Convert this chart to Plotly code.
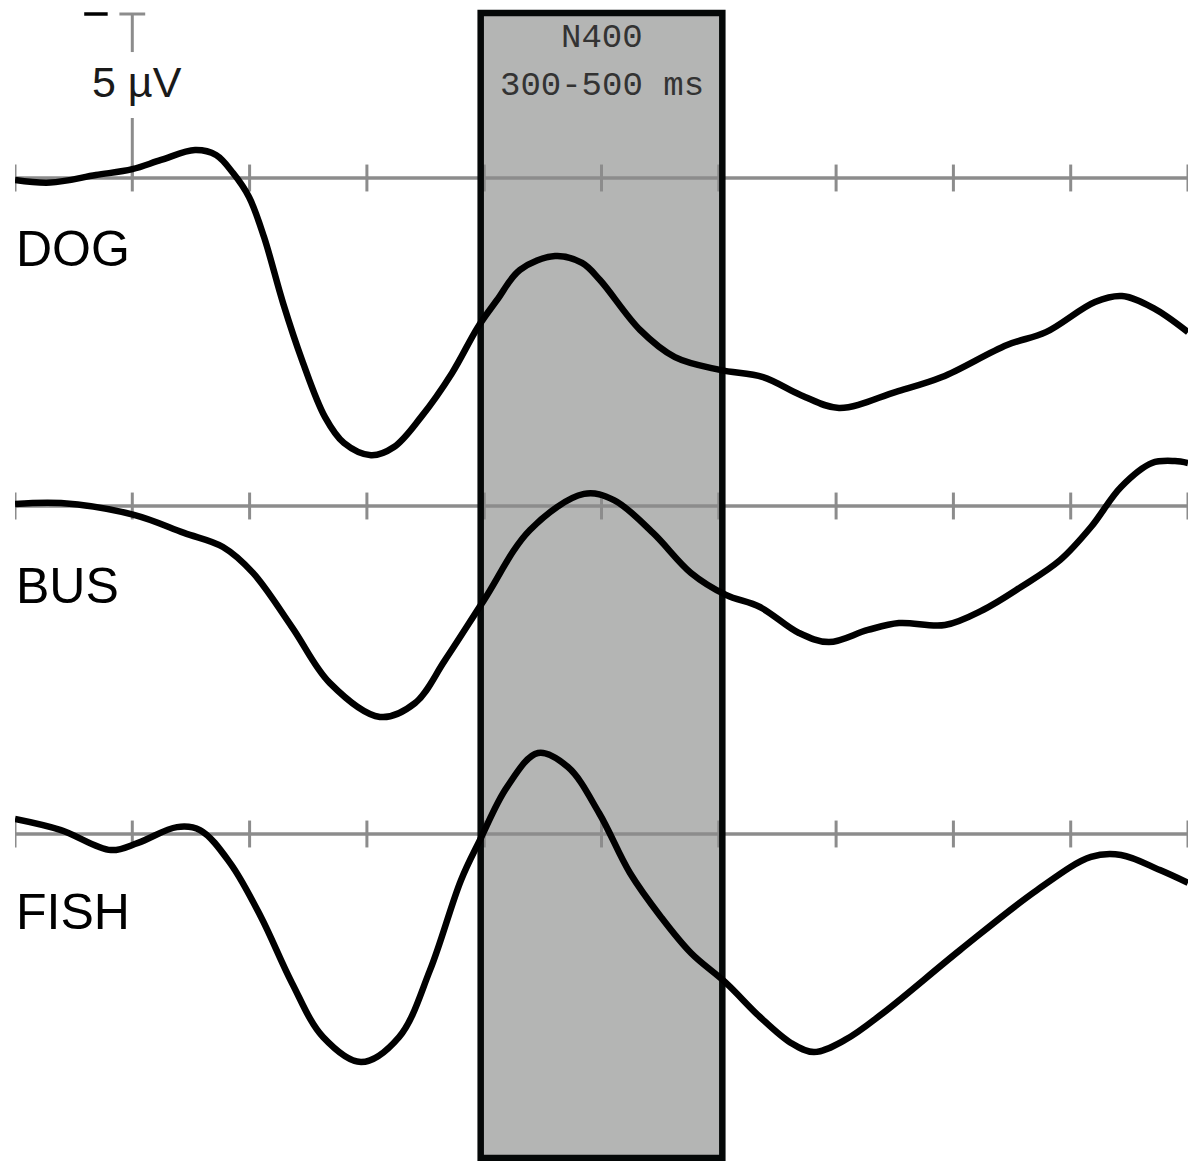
import plotly.graph_objects as go

# ---------------- data ----------------
conditions = ["DOG", "BUS", "FISH"]
channel_offset_uv = [0, 10, 20]          # vertical stacking offset (µV)
tick_ms = [-100, 0, 100, 200, 300, 400, 500, 600, 700, 800, 900]
n400_window_ms = [300, 500]
scale_bar_uv = 5

dog_t = [-100, -70, -31, 0, 24.5, 53.5, 71.4, 85.9, 99.5, 112.3, 128.5, 144.7, 164.3, 180.5,
         203.5, 223.1, 246.1, 272.5, 294.7, 310.9, 330.5, 360.4, 383.4, 398.7, 432.8, 462.6,
         501, 537.7, 570.1, 602.5, 651.1, 690.3, 745.7, 778.9, 820.7, 843.7, 870.2, 900]
dog_uv = [0.06, 0.14, -0.09, -0.27, -0.55, -0.85, -0.70, -0.15, 0.58, 1.80, 3.81, 5.55, 7.29, 8.08,
          8.45, 8.20, 7.29, 5.95, 4.54, 3.72, 2.80, 2.38, 2.59, 3.11, 4.63, 5.46,
          5.85, 6.07, 6.62, 7.01, 6.52, 6.07, 5.09, 4.70, 3.78, 3.60, 3.96, 4.70]

bus_t = [-100, -60.8, 1.4, 44.1, 77.3, 102.9, 136.1, 168.5, 211.1, 241, 266.6, 299.8, 339,
         385.1, 410.6, 443.9, 476.3, 506.1, 535.1, 568.3, 593.9, 627.1, 653.6, 692.8, 725.2,
         757.6, 790.9, 817.3, 842.9, 869.3, 888.9, 900]
bus_uv = [-0.06, -0.09, 0.27, 0.82, 1.25, 2.04, 3.69, 5.40, 6.43, 6.01, 4.70, 2.87, 0.73,
          -0.37, -0.18, 0.82, 2.04, 2.71, 3.08, 3.87, 4.15, 3.78, 3.57, 3.63, 3.17,
          2.47, 1.65, 0.64, -0.58, -1.31, -1.37, -1.31]

fish_t = [-100, -60.8, -18.2, 4.9, 38.1, 57.7, 83.3, 109.7, 136.1, 162.6, 195, 227.4, 253.8,
          280.3, 296.4, 319.4, 345.9, 371.4, 397.9, 424.3, 450.7, 476.3, 506.1, 535.1, 561.5,
          581.1, 607.6, 640, 705.6, 771.3, 817.3, 842.9, 876.1, 900]
fish_uv = [-0.46, -0.12, 0.49, 0.27, -0.21, -0.12, 0.88, 2.53, 4.54, 6.19, 6.95, 6.19, 4.15,
           1.40, 0.18, -1.43, -2.47, -2.04, -0.64, 1.19, 2.53, 3.63, 4.54, 5.58, 6.37,
           6.65, 6.28, 5.46, 3.54, 1.71, 0.70, 0.64, 1.10, 1.49]

series_t = [dog_t, bus_t, fish_t]
series_uv = [dog_uv, bus_uv, fish_uv]
label_dy_uv = [2.16, 2.44, 2.38]

# ---------------- style ----------------
W, H = 1198, 1161
PX_PER_UV = 32.8
BASE_PX = 178
GRAY = "#8c8c8c"
BOX_FILL = "#b4b5b4"
TICK_HALF = 0.41

y_top = -BASE_PX / PX_PER_UV
y_bot = (H - BASE_PX) / PX_PER_UV

fig = go.Figure()

shapes = []
pad = 3
box_y0 = -165 / PX_PER_UV
box_y1 = (1158 - BASE_PX) / PX_PER_UV
# N400 box fill
shapes.append(dict(type="rect", xref="x", yref="y", x0=n400_window_ms[0] - pad, x1=n400_window_ms[1] + pad,
                   y0=box_y0, y1=box_y1, fillcolor=BOX_FILL, line=dict(width=0), layer="below"))
# baselines + ticks
for off in channel_offset_uv:
    shapes.append(dict(type="line", xref="x", yref="y", x0=tick_ms[0], x1=tick_ms[-1], y0=off, y1=off,
                       line=dict(color=GRAY, width=3.5), layer="below"))
    for tk in tick_ms:
        shapes.append(dict(type="line", xref="x", yref="y", x0=tk, x1=tk, y0=off - TICK_HALF, y1=off + TICK_HALF,
                           line=dict(color=GRAY, width=3), layer="below"))
# box border
shapes.append(dict(type="rect", xref="x", yref="y", x0=n400_window_ms[0] - pad, x1=n400_window_ms[1] + pad,
                   y0=box_y0, y1=box_y1,
                   fillcolor="rgba(0,0,0,0)", line=dict(color="#050808", width=6.5), layer="below"))
# scale bar
shapes.append(dict(type="line", xref="x", yref="y", x0=0, x1=0, y0=-scale_bar_uv, y1=-3.84,
                   line=dict(color=GRAY, width=3), layer="below"))
shapes.append(dict(type="line", xref="x", yref="y", x0=0, x1=0, y0=-1.83, y1=0,
                   line=dict(color=GRAY, width=3), layer="below"))
shapes.append(dict(type="line", xref="x", yref="y", x0=-11, x1=11, y0=-scale_bar_uv, y1=-scale_bar_uv,
                   line=dict(color=GRAY, width=3), layer="below"))
shapes.append(dict(type="line", xref="x", yref="y", x0=-41, x1=-21, y0=-scale_bar_uv, y1=-scale_bar_uv,
                   line=dict(color="#000000", width=3.5), layer="below"))

for name, t, uv, off in zip(conditions, series_t, series_uv, channel_offset_uv):
    fig.add_trace(go.Scatter(x=t, y=[v + off for v in uv], mode="lines", name=name,
                             line=dict(color="#000000", width=6.5, shape="spline", smoothing=1.0),
                             cliponaxis=False, hoverinfo="skip", showlegend=False))

annotations = []
for name, off, dy in zip(conditions, channel_offset_uv, label_dy_uv):
    annotations.append(dict(x=tick_ms[0], y=off + dy, xref="x", yref="y", text=name, showarrow=False,
                            xanchor="left", yanchor="middle", xshift=-1,
                            font=dict(family="Liberation Sans, Arial", size=50, color="#000000")))
annotations.append(dict(x=4.4, y=-2.94, xref="x", yref="y", text="5 µV", showarrow=False,
                        xanchor="center", yanchor="middle",
                        font=dict(family="Liberation Sans, Arial", size=43, color="#1a1a1a")))
annotations.append(dict(x=sum(n400_window_ms) / 2, y=-4.27, xref="x", yref="y", text="N400", showarrow=False,
                        xanchor="center", yanchor="middle",
                        font=dict(family="Liberation Mono, Courier New, monospace", size=34, color="#333333")))
annotations.append(dict(x=sum(n400_window_ms) / 2, y=-2.79, xref="x", yref="y",
                        text=f"{n400_window_ms[0]}-{n400_window_ms[1]} ms", showarrow=False,
                        xanchor="center", yanchor="middle",
                        font=dict(family="Liberation Mono, Courier New, monospace", size=34, color="#333333")))

fig.update_layout(
    width=W, height=H,
    margin=dict(l=15, r=10, t=0, b=0, pad=0),
    paper_bgcolor="white", plot_bgcolor="white",
    xaxis=dict(range=[tick_ms[0], tick_ms[-1]], visible=False, showgrid=False, zeroline=False, fixedrange=True),
    yaxis=dict(range=[y_bot, y_top], visible=False, showgrid=False, zeroline=False, fixedrange=True),
    shapes=shapes, annotations=annotations, showlegend=False,
)

fig.write_html("out.html", config={"displayModeBar": False},
               post_script="document.body.style.margin='0';document.body.style.overflow='hidden';")
